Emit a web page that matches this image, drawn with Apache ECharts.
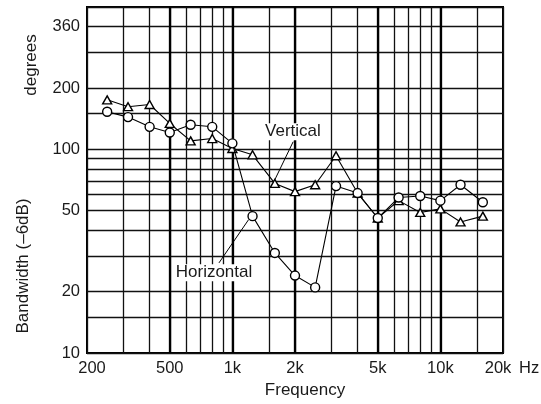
<!DOCTYPE html>
<html><head><meta charset="utf-8">
<script src="https://cdn.jsdelivr.net/npm/echarts@6/dist/echarts.min.js"></script>
<style>html,body{margin:0;padding:0;background:#fff}#c{width:541px;height:404px}</style>
</head><body><div id="c"></div>
<script>
const frequencies = [250,315,400,500,630,800,1000,1250,1600,2000,2500,3150,4000,5000,6300,8000,10000,12500,16000];
const verticalBW = [175,162,166,134,110,113,101,94,68,62,67,93,61,46,56,49,51,44,47];
const horizontalBW = [153,144,129,121,132,129,107,47,31,24,21,66,61,46,58,59,56,67,55];
const xLabelTicks = [200,500,1000,2000,5000,10000,20000];
const xLabelText = ['200','500','1k','2k','5k','10k','20k'];
const xGridTicks = [200,300,400,500,600,700,800,900,1000,1500,2000,3000,4000,5000,6000,7000,8000,9000,10000,15000,20000];
const xMajorTicks = [500,1000,2000,5000,10000];
const yLabelTicks = [10,20,50,100,200,400];
const yLabelText = ['10','20','50','100','200','360'];
const yGridTicks = [10,15,20,30,40,50,60,70,80,90,100,150,200,300,400,500];
const xRange = [200,20000];
const yRange = [10,500];
const annotations = [
  {text:'Vertical', label:[1955,122], from:[1960,109], to:[1590,70]},
  {text:'Horizontal', label:[816,24.8], from:[862,27.7], to:[1197,45.2]}
];

const L = Math.log10;
const FONT = "'Liberation Sans', Arial, Helvetica, sans-serif";
function lookup(ticks, texts, v){
  for (let i=0;i<ticks.length;i++){ if (Math.abs(L(ticks[i])-v)<1e-6) return {i, t:texts[i]}; }
  return {i:-1, t:''};
}
const chart = echarts.init(document.getElementById('c'), null, {renderer:'canvas'});
const gridStyle = {color:'#111', width:1.3};
chart.setOption({
  backgroundColor:'#fff',
  animation:false,
  textStyle:{fontFamily:FONT},
  grid:{left:87, right:38, top:7, bottom:51, show:true, borderColor:'#000', borderWidth:2, backgroundColor:'transparent'},
  xAxis:[{
    type:'value', min:L(xRange[0]), max:L(xRange[1]),
    axisLine:{show:false},
    axisTick:{show:false, customValues:xGridTicks.map(L)},
    splitLine:{show:true, lineStyle:gridStyle},
    axisLabel:{
      customValues:xLabelTicks.map(L), color:'#1a1a1a', fontSize:16.5, margin:7, fontFamily:FONT,
      formatter:v=>{
        const r = lookup(xLabelTicks, xLabelText, v);
        if (r.i===0) return '{l|'+r.t+'}';
        if (r.i===xLabelTicks.length-1) return '{r|'+r.t+'}';
        return r.t;
      },
      rich:{
        l:{padding:[0,0,0,10], fontSize:16.5, color:'#1a1a1a', fontFamily:FONT},
        r:{padding:[0,10,0,0], fontSize:16.5, color:'#1a1a1a', fontFamily:FONT}
      }
    },
    name:'Frequency', nameLocation:'middle', nameGap:29,
    nameTextStyle:{fontSize:17, color:'#1a1a1a', padding:[0,0,0,20], fontFamily:FONT}
  },{
    type:'value', min:L(xRange[0]), max:L(xRange[1]), position:'bottom',
    axisLine:{show:false}, axisLabel:{show:false},
    axisTick:{show:false, customValues:xMajorTicks.map(L)},
    splitLine:{show:true, lineStyle:{color:'#000', width:2.3}}
  }],
  yAxis:{
    type:'value', min:L(yRange[0]), max:L(yRange[1]),
    axisLine:{show:false},
    axisTick:{show:false, customValues:yGridTicks.map(L)},
    splitLine:{show:true, lineStyle:gridStyle},
    axisLabel:{
      customValues:yLabelTicks.map(L), color:'#1a1a1a', fontSize:16.5, margin:7, fontFamily:FONT,
      formatter:v=>lookup(yLabelTicks, yLabelText, v).t
    }
  },
  graphic:[
    {type:'text', x:31, y:65, rotation:Math.PI/2,
     style:{text:'degrees', fontSize:17, fill:'#1a1a1a', fontFamily:FONT, align:'center', verticalAlign:'middle'}},
    {type:'text', x:23, y:266, rotation:Math.PI/2,
     style:{text:'Bandwidth (\u20136dB)', fontSize:17, fill:'#1a1a1a', fontFamily:FONT, align:'center', verticalAlign:'middle'}},
    {type:'text', x:519, y:368,
     style:{text:'Hz', fontSize:16.5, fill:'#1a1a1a', fontFamily:FONT, align:'left', verticalAlign:'middle'}}
  ],
  series:[{
    name:'Vertical', type:'line',
    data:frequencies.map((f,i)=>[L(f), L(verticalBW[i])]),
    symbol:'triangle', symbolSize:[9,8], showSymbol:true,
    lineStyle:{color:'#000', width:1.1},
    itemStyle:{color:'#fff', borderColor:'#000', borderWidth:1.4},
    z:3,
    markLine:{
      silent:true, symbol:['none','none'], animation:false,
      lineStyle:{color:'#000', width:1, type:'solid'}, label:{show:false},
      data:annotations.map(a=>[{coord:[L(a.from[0]),L(a.from[1])]},{coord:[L(a.to[0]),L(a.to[1])]}])
    },
    markPoint:{
      silent:true, symbol:'rect', symbolSize:[1,1], itemStyle:{color:'rgba(0,0,0,0)'},
      label:{show:true, position:'inside', color:'#1a1a1a', fontSize:17, fontFamily:FONT,
             backgroundColor:'#fff', padding:[0,1], formatter:p=>p.name},
      data:annotations.map(a=>({name:a.text, coord:[L(a.label[0]),L(a.label[1])]}))
    }
  },{
    name:'Horizontal', type:'line',
    data:frequencies.map((f,i)=>[L(f), L(horizontalBW[i])]),
    symbol:'circle', symbolSize:9, showSymbol:true,
    lineStyle:{color:'#000', width:1.1},
    itemStyle:{color:'#fff', borderColor:'#000', borderWidth:1.4},
    z:4
  }]
});
</script>
</body></html>
